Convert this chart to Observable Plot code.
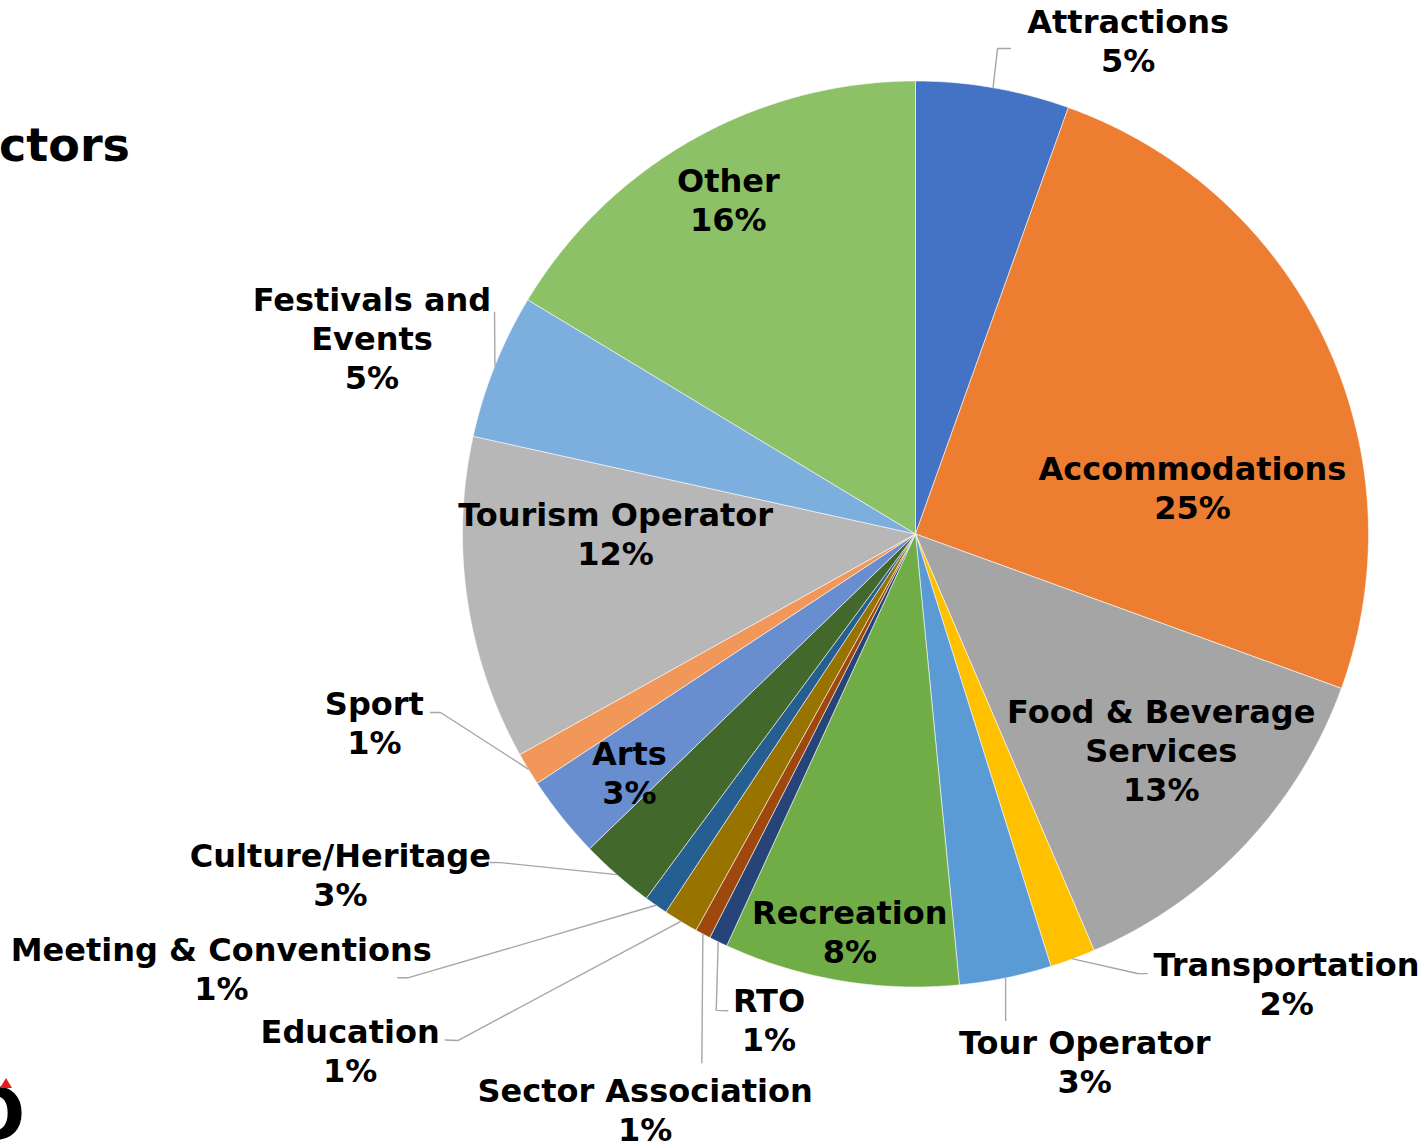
<!DOCTYPE html>
<html><head><meta charset="utf-8">
<script src="https://cdn.jsdelivr.net/npm/d3@7"></script>
<script src="https://cdn.jsdelivr.net/npm/@observablehq/plot@0.6"></script>
<style>
body{margin:0;background:#fff;width:1422px;height:1142px;overflow:hidden;position:relative;font-family:"DejaVu Sans",Verdana,sans-serif}
#title{position:absolute;right:1292px;top:122px;font-weight:bold;font-size:46px;line-height:1;white-space:nowrap;color:#000;z-index:2}
#logo{position:absolute;left:-36px;top:1078px;font-weight:bold;font-size:72px;line-height:1;color:#000;z-index:2}
#tri{position:absolute;left:0;top:1078px;width:0;height:0;border-left:6px solid transparent;border-right:6px solid transparent;border-bottom:10px solid #e31b23;z-index:2}
#chart{position:absolute;left:0;top:0;z-index:1}
</style></head><body>
<div id="chart"></div>
<div id="title">Sectors</div>
<div id="logo">O</div>
<div id="tri"></div>
<script>
// ---- data ----
const categories = ["Attractions","Accommodations","Food & Beverage Services","Transportation","Tour Operator","Recreation","RTO","Sector Association","Education","Meeting & Conventions","Culture/Heritage","Arts","Sport","Tourism Operator","Festivals and Events","Other"];
const labelNames = ["Attractions","Accommodations","Food & Beverage\nServices","Transportation","Tour Operator","Recreation","RTO","Sector Association","Education","Meeting & Conventions","Culture/Heritage","Arts","Sport","Tourism Operator","Festivals and\nEvents","Other"];
const values = [5.48,25.07,13.02,1.62,3.29,8.39,0.66,0.55,1.24,0.84,2.65,2.95,1.18,11.56,5.19,16.36];
const colors = ["#4472C4","#ED7D31","#A5A5A5","#FFC000","#5B9BD5","#70AD47","#264478","#9E480E","#997300","#255E91","#43682B","#698ED0","#F1975A","#B7B7B7","#7CAFDD","#8CC168"];

// ---- layout (polar: radius factor, angle in degrees clockwise from top) ----
const labelPolar = [[1.187,23.3],[0.62,80.4],[0.722,131.3],[1.285,140.4],[1.222,162.2],[0.888,189.4],[1.119,196.8],[1.402,205.2],[1.69,227.6],[1.807,238.0],[1.475,239.4],[0.822,230.2],[1.265,250.8],[0.662,270.2],[1.276,289.9],[0.847,330.8]];
const leaderPolar = {
  "Attractions": [[1.087,9.59],[1.092,11.07]],
  "Transportation": [[1.087,153.2],[1.097,152.2]],
  "Tour Operator": [[1.092,169.5]],
  "RTO": [[1.140,202.7],[1.131,201.5]],
  "Sector Association": [[1.259,202.0]],
  "Education": [[1.507,222.1],[1.525,222.9]],
  "Meeting & Conventions": [[1.487,228.8],[1.505,229.4]],
  "Culture/Heritage": [[1.168,231.6],[1.186,232.3]],
  "Sport": [[1.120,249.4],[1.141,249.8]],
  "Festivals and Events": [[1.05,297.75]]
};

const W = 1422, H = 1142, CX = 915, CY = 533.5, R = 453;
const polar = (r, deg) => { const a = deg * Math.PI / 180; return {x: r * Math.sin(a), y: r * Math.cos(a)}; };

const total = d3.sum(values);
const pie = d3.pie().sort(null).value(d => d)(values);
const slicePts = [];
const labels = [];
const leaders = [];
pie.forEach((p, i) => {
  const cat = categories[i];
  const a0 = p.startAngle * 180 / Math.PI, a1 = p.endAngle * 180 / Math.PI;
  slicePts.push({category: cat, ...polar(0, 0)});
  const n = Math.max(2, Math.ceil((a1 - a0) / 0.4));
  for (let k = 0; k <= n; k++) slicePts.push({category: cat, ...polar(1, a0 + (a1 - a0) * k / n)});
  slicePts.push({category: cat, ...polar(0, 0)});
  const [lr, la] = labelPolar[i];
  labels.push({category: cat, text: `${labelNames[i]}\n${Math.round(values[i] / total * 100)}%`, ...polar(lr, la)});
  if (leaderPolar[cat]) {
    const mid = (a0 + a1) / 2;
    leaders.push({category: cat, ...polar(1, mid)});
    leaderPolar[cat].forEach(([r, a]) => leaders.push({category: cat, ...polar(r, a)}));
  }
});

const chart = Plot.plot({
  width: W, height: H,
  margin: 0,
  x: {domain: [-CX / R, (W - CX) / R], axis: null},
  y: {domain: [(CY - H) / R, CY / R], axis: null},
  color: {domain: categories, range: colors},
  style: {fontFamily: "'DejaVu Sans', Verdana, sans-serif", background: "transparent", overflow: "visible"},
  marks: [
    Plot.line(slicePts, {x: "x", y: "y", z: "category", fill: "category", stroke: "#ffffff", strokeWidth: 0.8, strokeOpacity: 0.7, curve: "linear"}),
    Plot.line(leaders, {x: "x", y: "y", z: "category", stroke: "#a6a6a6", strokeWidth: 1.4}),
    Plot.text(labels, {x: "x", y: "y", text: "text", fontSize: 32, fontWeight: "bold", fill: "#000", lineHeight: 1.22, lineAnchor: "middle", textAnchor: "middle"})
  ]
});
document.getElementById("chart").appendChild(chart);
</script>
</body></html>
